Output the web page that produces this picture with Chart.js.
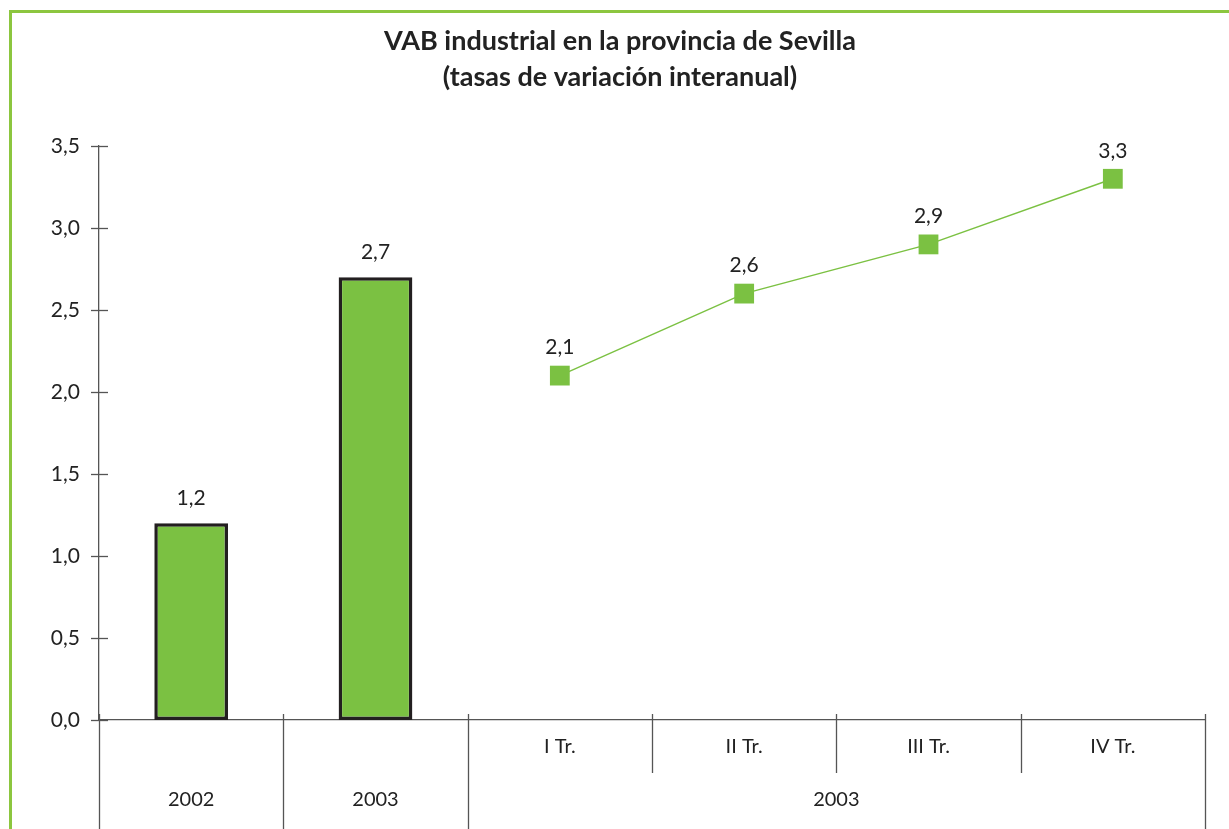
<!DOCTYPE html>
<html>
<head>
<meta charset="utf-8">
<script src="https://cdn.jsdelivr.net/npm/chart.js@4"></script>
<style>
body { margin: 0; background: #fff; }
#wrap { width: 1229px; height: 829px; position: relative; }
</style>
</head>
<body>
<div id="wrap"><canvas id="myChart" width="1229" height="829"></canvas></div>
<script>
// categories: two annual bars, then the four quarters of 2003
var categories = ['2002', '2003', 'I Tr.', 'II Tr.', 'III Tr.', 'IV Tr.'];
var annualA = [1.2, 2.7, null, null, null, null];
var quarterA = [null, null, 2.1, 2.6, 2.9, 3.3];
var groupLabels = [{ label: '2002', from: 0, to: 0 }, { label: '2003', from: 1, to: 1 }, { label: '2003', from: 2, to: 5 }];
var titleLines = ['VAB industrial en la provincia de Sevilla', '(tasas de variación interanual)'];

var green = '#7bc142';
var axisGrey = '#555555';
var fontName = 'Lato, "Open Sans", sans-serif';

function fmt(v) { return v.toFixed(1).replace('.', ','); }

var decor = {
    id: 'decor',
    beforeDraw: function (chart) {
        var ctx = chart.ctx;
        ctx.save();
        ctx.strokeStyle = '#8cc63f';
        ctx.lineWidth = 3;
        ctx.strokeRect(10.5, 11.5, 1300, 900);
        // title, two lines
        ctx.fillStyle = '#222';
        ctx.textAlign = 'center';
        ctx.textBaseline = 'middle';
        ctx.font = 'bold 27px ' + fontName;
        ctx.fillText(titleLines[0], 620, 41);
        ctx.fillText(titleLines[1], 620, 77);
        ctx.restore();
    },
    afterDraw: function (chart) {
        var ctx = chart.ctx;
        var x = chart.scales.x, y = chart.scales.y;
        var area = chart.chartArea;
        ctx.save();
        ctx.strokeStyle = axisGrey;
        ctx.lineWidth = 1.3;
        // y ticks crossing the axis
        y.ticks.forEach(function (t) {
            var py = Math.round(y.getPixelForValue(t.value)) + 0.5;
            ctx.beginPath();
            ctx.moveTo(area.left - 8, py);
            ctx.lineTo(area.left + 9, py);
            ctx.stroke();
        });
        // category separators
        var half = (x.getPixelForValue(1) - x.getPixelForValue(0)) / 2;
        for (var i = 0; i <= categories.length; i++) {
            var px = i < categories.length ? x.getPixelForValue(i) - half : x.getPixelForValue(i - 1) + half;
            px = Math.round(px) + 0.5;
            var long = (i <= 2 || i === categories.length);
            ctx.beginPath();
            ctx.moveTo(px, area.bottom - 6);
            ctx.lineTo(px, long ? chart.height : area.bottom + 53);
            ctx.stroke();
        }
        // x labels
        ctx.fillStyle = '#222';
        ctx.textAlign = 'center';
        ctx.textBaseline = 'middle';
        ctx.font = '20px ' + fontName;
        for (var j = 2; j < categories.length; j++) {
            ctx.fillText(categories[j], x.getPixelForValue(j), area.bottom + 27);
        }
        groupLabels.forEach(function (g) {
            var cx = (x.getPixelForValue(g.from) + x.getPixelForValue(g.to)) / 2;
            ctx.fillText(g.label, cx, area.bottom + 80);
        });
        ctx.restore();
    },
    afterDatasetsDraw: function (chart) {
        var ctx = chart.ctx;
        ctx.save();
        ctx.fillStyle = '#222';
        ctx.textAlign = 'center';
        ctx.textBaseline = 'middle';
        ctx.font = '21px ' + fontName;
        chart.data.datasets.forEach(function (ds, di) {
            var meta = chart.getDatasetMeta(di);
            meta.data.forEach(function (el, k) {
                var v = ds.data[k];
                if (v === null) return;
                var off = ds.type === 'bar' ? 25 : 28;
                ctx.fillText(fmt(v), el.x, el.y - off);
            });
        });
        ctx.restore();
    }
};

var ctx = document.getElementById('myChart').getContext('2d');
var myChart = new Chart(ctx, {
    data: {
        labels: categories,
        datasets: [{
            type: 'bar',
            data: annualA,
            backgroundColor: green,
            borderColor: '#231f20',
            borderWidth: 3.5,
            borderSkipped: false,
            barPercentage: 0.4,
            categoryPercentage: 1,
            order: 2
        }, {
            type: 'line',
            data: quarterA,
            borderColor: green,
            borderWidth: 1.5,
            backgroundColor: green,
            pointStyle: 'rect',
            pointRadius: 14,
            pointBorderWidth: 0,
            spanGaps: false,
            order: 1
        }]
    },
    options: {
        responsive: false,
        animation: false,
        layout: { padding: { left: 0, right: 24, top: 146, bottom: 0 } },
        plugins: {
            legend: { display: false },
            tooltip: { enabled: false },
            title: { display: false }
        },
        scales: {
            x: {
                offset: true,
                grid: { display: false, drawTicks: false },
                border: { display: true, color: axisGrey, width: 1.3 },
                ticks: { display: false },
                afterFit: function (s) { s.height = 109; }
            },
            y: {
                min: 0,
                max: 3.5,
                grid: { display: false, drawTicks: false },
                border: { display: true, color: axisGrey, width: 1.3 },
                ticks: {
                    stepSize: 0.5,
                    padding: 19,
                    color: '#222',
                    font: { family: fontName, size: 21 },
                    callback: function (v) { return fmt(v); }
                },
                afterFit: function (s) { s.width = 99; }
            }
        }
    },
    plugins: [decor]
});
</script>
</body>
</html>
